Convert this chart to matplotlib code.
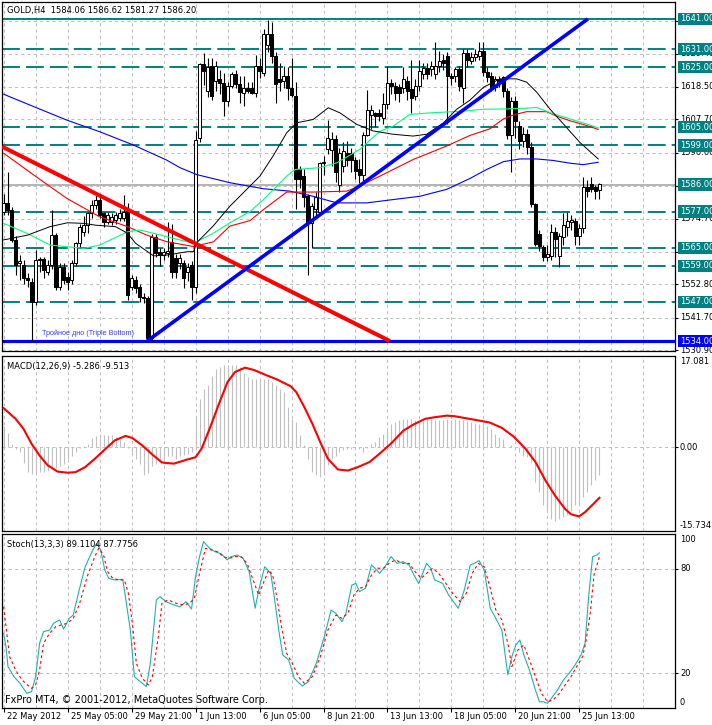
import numpy as np
import matplotlib
matplotlib.use("Agg")
import matplotlib.pyplot as plt

# GOLD H4 bars, 22 May .. 25 Jun 2012
opens = [1577.0, 1580.0, 1577.5, 1567.6, 1559.8, 1559.3, 1554.8, 1553.7, 1547.1, 1561.0,
         1561.1, 1557.0, 1559.3, 1569.2, 1552.1, 1558.7, 1555.4, 1554.3, 1559.8, 1566.5,
         1570.3, 1572.5, 1576.4, 1579.2, 1580.9, 1576.4, 1573.7, 1573.7, 1574.2, 1574.8,
         1574.8, 1577.5, 1552.1, 1554.3, 1552.1, 1548.7, 1548.2, 1535.0, 1568.7, 1563.6,
         1562.6, 1563.1, 1567.0, 1561.5, 1559.8, 1559.8, 1557.1, 1559.3, 1552.1, 1601.5,
         1625.9, 1617.0, 1625.3, 1620.4, 1621.0, 1619.8, 1613.7, 1618.7, 1622.6, 1619.3,
         1616.5, 1618.1, 1618.0, 1616.5, 1625.3, 1623.2, 1632.5, 1635.9, 1628.7, 1621.0,
         1620.4, 1622.0, 1618.1, 1615.4, 1591.0, 1588.8, 1582.1, 1573.3, 1578.0, 1577.0,
         1593.0, 1597.7, 1597.6, 1601.0, 1586.0, 1592.1, 1596.5, 1596.5, 1594.3, 1591.0,
         1589.3, 1602.6, 1609.2, 1609.8, 1609.8, 1608.0, 1612.6, 1619.8, 1618.7, 1618.5,
         1618.1, 1620.4, 1617.6, 1615.4, 1618.7, 1622.6, 1624.8, 1624.3, 1622.6, 1625.3,
         1627.5, 1628.7, 1622.0, 1622.0, 1624.3, 1618.1, 1629.8, 1627.2, 1628.3, 1628.8,
         1630.5, 1623.3, 1622.2, 1618.3, 1621.1, 1621.6, 1617.2, 1602.3, 1613.9, 1605.6,
         1600.6, 1602.8, 1598.4, 1579.6, 1569.6, 1565.2, 1561.8, 1562.4, 1570.1, 1562.4,
         1568.5, 1571.8, 1573.5, 1574.0, 1569.0, 1571.5, 1585.1, 1586.2, 1585.1, 1584.06]
highs = [1583.0, 1590.0, 1578.5, 1569.0, 1562.6, 1561.0, 1556.5, 1555.0, 1564.2, 1562.0,
         1562.0, 1561.0, 1577.5, 1570.0, 1560.0, 1560.0, 1557.0, 1561.0, 1567.0, 1573.0,
         1575.5, 1577.0, 1581.0, 1583.6, 1582.0, 1577.0, 1577.0, 1576.5, 1577.0, 1578.0,
         1582.5, 1580.0, 1556.0, 1555.5, 1553.0, 1550.0, 1549.0, 1569.5, 1569.5, 1565.0,
         1565.0, 1573.5, 1573.0, 1563.0, 1563.0, 1561.0, 1560.0, 1560.5, 1603.8, 1626.5,
         1629.8, 1628.0, 1628.0, 1627.0, 1624.0, 1623.0, 1620.0, 1623.5, 1624.0, 1622.0,
         1622.0, 1620.0, 1620.0, 1629.0, 1628.0, 1637.5, 1640.8, 1640.0, 1630.0, 1626.5,
         1625.5, 1625.0, 1628.0, 1620.0, 1592.0, 1591.0, 1583.0, 1580.0, 1583.5, 1593.5,
         1595.5, 1607.3, 1603.5, 1602.5, 1598.0, 1600.0, 1600.5, 1598.0, 1595.0, 1594.5,
         1603.5, 1617.5, 1612.5, 1610.0, 1611.0, 1616.5, 1625.3, 1621.0, 1620.0, 1619.5,
         1625.0, 1622.0, 1627.4, 1621.0, 1627.5, 1626.5, 1626.5, 1627.0, 1633.2, 1630.5,
         1629.5, 1630.1, 1623.0, 1625.0, 1625.5, 1631.0, 1631.0, 1630.0, 1631.0, 1633.3,
         1633.5, 1625.0, 1623.5, 1622.0, 1622.0, 1622.0, 1618.0, 1615.0, 1615.5, 1607.0,
         1605.0, 1604.5, 1600.0, 1580.0, 1571.0, 1566.0, 1566.0, 1573.0, 1572.0, 1570.0,
         1576.5, 1577.0, 1576.0, 1575.0, 1573.0, 1588.5, 1587.5, 1588.5, 1586.0, 1586.62]
lows = [1576.0, 1576.0, 1567.0, 1556.0, 1554.3, 1553.0, 1552.0, 1534.0, 1546.0, 1557.0,
        1555.0, 1556.0, 1558.0, 1551.0, 1551.0, 1553.0, 1551.0, 1553.0, 1559.0, 1565.0,
        1569.0, 1570.0, 1575.0, 1578.0, 1575.0, 1572.0, 1573.0, 1572.5, 1573.0, 1574.0,
        1574.0, 1547.5, 1551.0, 1550.0, 1547.0, 1546.5, 1534.0, 1534.0, 1562.0, 1559.0,
        1561.0, 1562.0, 1555.0, 1555.0, 1558.0, 1551.5, 1554.0, 1547.5, 1550.0, 1600.0,
        1619.0, 1615.0, 1614.0, 1617.0, 1616.0, 1608.7, 1612.0, 1618.0, 1618.0, 1613.0,
        1612.0, 1616.5, 1616.0, 1615.0, 1621.5, 1622.0, 1630.0, 1626.5, 1613.0, 1617.0,
        1618.0, 1614.0, 1615.0, 1578.0, 1585.0, 1578.4, 1556.0, 1565.0, 1575.0, 1576.0,
        1589.0, 1596.0, 1592.0, 1587.0, 1583.5, 1590.0, 1592.0, 1590.0, 1588.0, 1586.5,
        1587.0, 1602.0, 1604.5, 1605.0, 1607.0, 1606.0, 1611.0, 1616.0, 1614.0, 1613.5,
        1616.5, 1614.0, 1609.6, 1614.0, 1617.0, 1621.0, 1621.0, 1622.0, 1621.0, 1623.5,
        1624.0, 1606.0, 1619.0, 1620.0, 1617.0, 1613.0, 1625.0, 1626.0, 1627.0, 1627.5,
        1622.0, 1620.0, 1617.0, 1617.0, 1618.5, 1615.0, 1601.0, 1590.1, 1601.5, 1597.7,
        1598.5, 1596.0, 1578.5, 1565.5, 1564.0, 1560.5, 1560.5, 1561.0, 1562.0, 1558.5,
        1566.0, 1569.0, 1571.0, 1566.0, 1566.0, 1570.0, 1582.0, 1583.5, 1581.3, 1581.27]
closes = [1579.7, 1577.5, 1567.6, 1559.3, 1560.5, 1554.8, 1554.3, 1547.1, 1560.9, 1561.3,
          1557.6, 1559.3, 1569.2, 1552.1, 1558.7, 1554.3, 1553.7, 1559.8, 1566.5, 1572.0,
          1572.5, 1576.4, 1579.2, 1580.9, 1575.9, 1573.7, 1575.9, 1575.3, 1575.9, 1576.4,
          1577.0, 1549.3, 1554.8, 1551.5, 1548.7, 1548.2, 1535.0, 1568.7, 1563.1, 1562.6,
          1563.6, 1564.0, 1557.0, 1557.0, 1561.5, 1554.8, 1558.7, 1552.1, 1600.8, 1625.9,
          1623.7, 1625.0, 1615.4, 1625.3, 1619.8, 1613.7, 1618.7, 1622.6, 1619.3, 1616.7,
          1618.1, 1617.0, 1616.5, 1625.3, 1623.7, 1635.9, 1635.9, 1628.7, 1619.3, 1620.0,
          1622.0, 1618.1, 1615.9, 1587.7, 1587.7, 1582.0, 1573.3, 1578.8, 1582.0, 1593.2,
          1593.5, 1601.5, 1601.0, 1590.0, 1596.5, 1597.1, 1594.3, 1594.3, 1590.4, 1589.3,
          1602.6, 1610.9, 1610.9, 1608.7, 1608.7, 1612.6, 1619.8, 1618.7, 1616.5, 1616.5,
          1620.9, 1617.0, 1614.8, 1618.7, 1623.7, 1624.8, 1622.6, 1625.3, 1625.4, 1627.0,
          1626.4, 1622.0, 1621.5, 1624.3, 1618.7, 1629.8, 1627.5, 1628.3, 1629.4, 1630.5,
          1623.3, 1621.6, 1618.3, 1621.1, 1620.5, 1617.2, 1602.3, 1613.9, 1607.2, 1600.6,
          1602.8, 1598.4, 1579.6, 1566.3, 1565.7, 1561.8, 1562.9, 1570.1, 1567.9, 1569.0,
          1572.4, 1574.0, 1574.3, 1569.0, 1571.5, 1585.1, 1584.0, 1584.5, 1584.0, 1586.20]

# moving averages (bar position, price)
ma_black_x = [0, 6, 11.6, 16, 20, 23, 28, 31, 33, 36, 37.5, 41, 46, 47.5, 48.3, 52.4, 56.6, 60.8,
              64.1, 67.4, 70.8, 73.3, 77.4, 81.2, 84.1, 88.3, 92.4, 97.4, 102.4, 105.8, 110,
              113.3, 116.6, 120, 124.1, 128.3, 130.8, 133.3, 136.6, 140, 144.1, 148.7]
ma_black_y = [1567.6, 1569.2, 1572.0, 1573.3, 1573.1, 1572.5, 1572.0, 1569.8, 1566.5, 1563.7,
              1562.3, 1562.6, 1563.7, 1563.7, 1566.7, 1572.2, 1578.8, 1584.4, 1588.8, 1595.5,
              1603.2, 1606.5, 1607.6, 1611.5, 1609.8, 1606.0, 1603.8, 1602.7, 1602.1, 1602.7,
              1606.5, 1611.0, 1614.0, 1618.3, 1621.1, 1621.1, 1620.0, 1616.7, 1611.1, 1606.1,
              1600.0, 1594.5]
ma_green_x = [0, 5.8, 11.6, 20, 24, 31, 34, 37.5, 42.5, 47.5, 52, 56.6, 61.6, 65, 70.8, 72.9,
              79.1, 83.3, 89.1, 94.1, 97.4, 101.6, 106.6, 115, 120, 125, 130, 133.3, 137.4,
              141.6, 145.8, 148.7]
ma_green_y = [1573.1, 1569.8, 1565.9, 1564.8, 1565.9, 1570.3, 1570.9, 1569.8, 1568.1, 1566.5,
              1569.5, 1573.3, 1577.0, 1581.0, 1588.8, 1591.0, 1591.6, 1593.2, 1597.7, 1603.7,
              1605.4, 1609.3, 1609.8, 1610.4, 1611.0, 1611.1, 1611.3, 1611.6, 1609.5, 1607.8,
              1606.1, 1604.8]
ma_red_x = [0, 7.5, 15.8, 24, 31, 35.8, 40.8, 47.5, 52.5, 56.6, 61.6, 65, 70.8, 77.4, 85.8,
            89.1, 94.1, 102.4, 110.8, 116.6, 121.6, 125, 127.4, 130.8, 135.8, 138.3, 141.6,
            145.8, 148.7]
ma_red_y = [1596.4, 1589.2, 1581.4, 1575.3, 1572.0, 1569.2, 1567.0, 1565.4, 1567.0, 1572.2,
            1574.0, 1577.7, 1583.5, 1583.5, 1583.8, 1585.5, 1588.8, 1594.3, 1598.8, 1602.3,
            1604.5, 1607.8, 1609.1, 1610.2, 1610.2, 1608.7, 1607.2, 1605.6, 1604.3]
ma_blue_x = [0, 7.5, 15.8, 24.1, 32.5, 40.8, 44.1, 48.3, 56.6, 65, 71.6, 77.4, 83.3, 90.8, 97.4,
             104.1, 110.8, 116.6, 120.8, 125, 129.1, 133.3, 137.4, 141.6, 144.9, 148.7]
ma_blue_y = [1616.0, 1611.9, 1607.4, 1603.5, 1599.1, 1594.1, 1591.6, 1589.3, 1586.6, 1584.6,
             1583.8, 1582.1, 1579.9, 1579.9, 1581.0, 1582.1, 1584.4, 1588.0, 1591.0, 1593.6,
             1594.5, 1594.5, 1594.0, 1593.1, 1592.6, 1593.4]

# trend lines (bar, price anchors)
trend_red_x = [-0.4, 96.6]
trend_red_y = [1598.6, 1534.0]
trend_blue_x = [35.9, 146.1]
trend_blue_y = [1534.0, 1641.0]

levels_dashed = [1631, 1625, 1605, 1599, 1577, 1565, 1559, 1547]
level_top = 1641
level_bid = 1586
level_bottom = 1534
price_grid = [1530.9, 1541.7, 1552.8, 1563.7, 1574.7, 1585.6, 1596.6, 1607.7, 1618.5, 1629.4, 1640.3]

macd_hist = [4.0, 2.6, 0.6, -0.3, -1.0, -3.0, -4.6, -5.0, -4.8, -4.7,
             -4.7, -4.5, -4.2, -4.0, -3.6, -3.2, -2.2, -1.6, -0.9, -0.2,
             0.2, 0.6, 1.7, 2.0, 2.1, 2.3, 2.3, 2.3, 1.9, 1.6,
             0.9, -0.1, -1.3, -2.2, -3.1, -5.3, -4.8, -3.5, -3.1, -2.6,
             -2.2, -1.6, -1.7, -2.2, -1.6, -1.4, -1.3, -1.0, 5.9, 9.0,
             10.9, 11.6, 13.4, 14.7, 15.0, 15.3, 15.3, 15.4, 15.3, 15.0,
             13.8, 13.1, 12.8, 12.8, 12.8, 12.8, 12.8, 12.2, 11.6, 10.9,
             10.3, 7.5, 5.3, 4.7, 2.2, 0.3, -2.2, -4.7, -5.3, -5.6,
             -5.0, -3.4, -2.2, -1.6, -0.9, -0.6, -0.3, -0.3, -0.2, -0.3,
             -0.9, -0.2, 0.6, 0.9, 1.9, 2.5, 3.4, 4.4, 4.7, 5.0,
             5.3, 5.3, 5.2, 5.0, 4.8, 5.0, 5.3, 5.2, 5.0, 5.0,
             5.1, 5.3, 5.0, 5.3, 5.0, 5.0, 4.8, 4.7, 4.6, 4.4,
             4.2, 4.0, 3.4, 2.5, 1.9, 1.6, 0.0, 0.3, -0.3, -0.9,
             -1.6, -1.9, -2.8, -6.6, -8.4, -10.9, -12.2, -13.4, -13.8, -13.4,
             -13.1, -12.8, -11.9, -10.9, -10.9, -9.4, -8.4, -7.2, -6.2, -5.286]
macd_sig_x = [0, 3, 5, 7, 9, 11, 13.5, 16, 18, 20.4, 22.8, 24.8, 27.8, 30.5, 32.2, 34.7, 37.2,
              39.6, 42.6, 45.6, 48, 49.5, 51.5, 54, 56, 57.9, 60.4, 62.8, 65.3, 68.3, 71.8,
              73.2, 75.2, 77.2, 79.2, 81.1, 83.6, 86.1, 88.6, 91.5, 94, 97, 100, 102.4, 105.4,
              107.8, 110.8, 112.7, 115.7, 118.7, 121.6, 124.6, 127.5, 130.5, 133, 135.5,
              137.9, 140.4, 141.9, 143.9, 145.4, 147.3, 149]
macd_sig_y = [7.3, 5.3, 3.4, 0.6, -1.6, -3.4, -4.6, -4.8, -4.7, -3.75, -2.2, -0.8, 1.25, 2.1,
              1.7, 0.3, -1.4, -2.9, -3.1, -2.4, -1.9, -0.3, 3.4, 8.4, 12.2, 14.1, 14.9, 14.4,
              13.6, 12.7, 11.4, 10.3, 7.5, 4.4, 0.9, -2.2, -4.2, -4.4, -3.75, -2.8, -1.25,
              0.75, 3.1, 4.2, 5.3, 5.6, 5.9, 5.8, 5.4, 5.0, 4.6, 3.6, 2.0, -0.3, -2.8, -6.25,
              -9.1, -11.6, -12.6, -13.0, -12.2, -10.8, -9.513]

stoch_main_x = [0, 0.6, 1.1, 2.6, 4.1, 5.8, 7, 8, 9, 10, 11.5, 12.5, 14, 15, 16.4, 17.4, 18.9,
                20.4, 22.3, 23.3, 24.3, 25.3, 26.3, 27.8, 29.8, 30.7, 31.7, 32.7, 34.2, 35.7,
                36.7, 38.2, 39.1, 40.6, 42.6, 44.1, 45.6, 47, 48, 49, 50, 51.5, 52.9, 54.5,
                55.9, 56.9, 58.4, 59.9, 61.4, 62.9, 63.8, 65.3, 66.8, 67.8, 68.8, 69.8, 71.3,
                72.7, 74.7, 76.2, 78.2, 80.2, 81.9, 83.1, 84.6, 85.6, 87.1, 88.1, 89, 90.5,
                92, 92.9, 94, 95.4, 96.9, 98.4, 99.9, 101.4, 102.4, 103.8, 104.8, 105.8,
                106.8, 107.8, 109.8, 111.3, 113.7, 115.2, 116.7, 117.7, 118.9, 120.2, 121.7,
                123.1, 124.6, 126.1, 127.1, 128.1, 129.1, 130.1, 131.5, 133, 134, 135, 136,
                137, 138.5, 140, 141.4, 142.9, 144.4, 145.4, 146.3, 147.3, 148.3, 149]
stoch_main_y = [42.9, 35, 23.8, 18, 14.2, 8.4, 9.4, 18, 37.2, 43.9, 44.8, 48.7, 50.6, 45.4,
                51.5, 53.4, 67.8, 81.2, 90.8, 94.6, 90.8, 79.3, 74.5, 73.6, 73.9, 60.2, 44.8,
                18, 15.1, 12.3, 25.7, 62.1, 64, 61.1, 59.2, 58.2, 61.1, 56.9, 75.5, 87, 95.6,
                91.8, 89.8, 88.5, 85.1, 87, 87.9, 86, 78.4, 57.3, 67.8, 81.2, 77.4, 62.1, 44.8,
                30.5, 27.6, 17, 12.6, 15.1, 25.7, 41, 56.3, 54.4, 49.6, 54.4, 70.7, 71.6, 66.9,
                68.8, 82.2, 80.3, 77.4, 81.2, 87, 83.1, 84.1, 82.2, 77.4, 71.6, 77.4, 83.1,
                80.3, 73.6, 71.6, 64.9, 57.3, 67.8, 82.2, 83.1, 84.7, 79.3, 57.3, 51.5, 44.8,
                19, 29.5, 36.2, 39.1, 30.5, 21.8, 10.3, 3.6, 3.6, 2.7, 5.6, 10.3, 16.1, 19.9,
                24.7, 30.5, 37.2, 64, 87, 87.9, 89.11]
stoch_sig_x = [0, 0.6, 1.5, 3, 4.6, 6, 7, 8, 9, 10, 11.5, 13, 14.4, 16, 17.4, 18.9, 20.9, 22.8,
               23.8, 25, 26, 27.3, 28.8, 30.2, 31.2, 32.2, 33.2, 34.7, 36.2, 37.2, 38.7, 39.6,
               41.1, 43.1, 45.1, 46.5, 47.7, 49, 50.5, 52, 53.5, 55, 56.4, 57.9, 59.4, 60.9,
               62.4, 63.8, 65.1, 66.3, 67.3, 68.3, 69.5, 70.8, 72.2, 73.7, 75.2, 77.2, 79.2,
               81.1, 83.1, 84.6, 86.1, 87.6, 89, 90.5, 92, 93.5, 95, 96.4, 98, 99.9, 101.4,
               102.9, 104.4, 105.8, 107.3, 108.8, 110.3, 112.3, 114.2, 115.7, 117.2, 118.7,
               120.2, 121.7, 123.1, 124.6, 126.1, 127.1, 128.6, 130.1, 131.5, 133, 134.5, 136,
               137.4, 139, 140.4, 141.9, 143.3, 144.8, 145.7, 146.7, 147.7, 148.8, 149]
stoch_sig_y = [58.2, 46.7, 29.5, 21.8, 16.1, 13.2, 11.3, 13.2, 21.8, 37.2, 42.9, 46.7, 47.7,
               48.7, 51.5, 59.2, 75.5, 87, 91.8, 87.9, 78.4, 74.5, 73.6, 73.6, 65.9, 48.7, 25.7,
               17, 13.2, 18, 41, 60.2, 62.1, 60.2, 59.2, 60.2, 63, 77.4, 91.8, 90.8, 89.8, 87,
               86, 87, 87, 83.1, 73.6, 64.9, 72.6, 79.3, 76.4, 64, 46.7, 31.4, 25.7, 18, 14.2,
               18, 29.5, 44.8, 53.4, 51.5, 54.4, 64.9, 68.8, 69.7, 76.4, 80.3, 80.3, 83.1, 85.1,
               83.1, 83.1, 78.4, 74.5, 77.4, 80.3, 77.4, 72.6, 65.9, 61.1, 65.9, 77.4, 83.1,
               81.2, 68.8, 56.3, 50.6, 37.2, 23.8, 33.3, 36.2, 27.6, 18, 8.4, 3.6, 4.6, 8.4,
               13.2, 18, 23.8, 29.5, 39.1, 54.4, 77.4, 85.1, 87.78]

date_bars = [0, 16, 32, 48, 64, 80, 96, 112, 128, 144]
date_labels = ["22 May 2012", "25 May 05:00", "29 May 21:00", "1 Jun 13:00", "6 Jun 05:00",
               "8 Jun 21:00", "13 Jun 13:00", "18 Jun 05:00", "20 Jun 21:00", "25 Jun 13:00"]

header = "GOLD,H4  1584.06 1586.62 1581.27 1586.20"
macd_title = "MACD(12,26,9) -5.286 -9.513"
stoch_title = "Stoch(13,3,3) 89.1104 87.7756"

TEAL = "#008080"
GRID = "#c0c0c0"
FS = 6

W, H = 712, 725
fig = plt.figure(figsize=(W / 100, H / 100), dpi=100)


def panel(top, bottom):
    a = fig.add_axes([2 / W, 1 - bottom / H, 673 / W, (bottom - top) / H])
    a.set_xlim(-0.4, 167.9)
    for s in a.spines.values():
        s.set_linewidth(0.9)
    a.tick_params(left=False, bottom=False, labelleft=False, labelbottom=False,
                  right=True, labelright=False, direction="out", length=2.5, width=0.8)
    a.set_xticks([])
    for b in range(0, 168, 8):
        a.axvline(b, color=GRID, lw=0.75, ls=(0, (3, 3)), zorder=0.5)
    return a


def rlabel(a, y, text, fc=None, va="center", dy=0, yc="data", z=6):
    kw = {}
    if fc:
        kw["bbox"] = dict(boxstyle="square,pad=0.2", fc=fc, ec="none")
    a.annotate(text, xy=(1, y), xycoords=("axes fraction", yc), xytext=(5, dy),
               textcoords="offset pixels", ha="left", va=va, fontsize=FS,
               color="white" if fc else "black", annotation_clip=False, zorder=z, **kw)


# ---------------- main price panel ----------------
ax = panel(1.5, 351)
ax.set_ylim(1530.7, 1646.8)
ax.set_yticks(price_grid)
for p in price_grid:
    ax.axhline(p, color=GRID, lw=0.75, ls=(0, (3, 3)), zorder=0.5)

for lv in levels_dashed:
    ax.axhline(lv, color=TEAL, lw=1.4, ls=(0, (9.2, 3.1)), zorder=1)
ax.axhline(level_top, color=TEAL, lw=1.4, zorder=1)
ax.axhline(level_bid, color="#b4b4b4", lw=1.4, zorder=1)
ax.axhline(level_bottom, color="#0000ff", lw=2.3, zorder=1)

o = np.array(opens)
hi = np.array(highs)
lo = np.array(lows)
c = np.array(closes)
x = np.arange(len(c))
ax.vlines(x, lo, hi, color="black", lw=0.8, zorder=3)
up = c >= o
bottom = np.minimum(o, c)
height = np.maximum(np.abs(c - o), 0.25)
ax.bar(x[up], height[up], bottom=bottom[up], width=0.55, facecolor="white",
       edgecolor="black", lw=0.75, zorder=3.5)
ax.bar(x[~up], height[~up], bottom=bottom[~up], width=0.55, facecolor="black",
       edgecolor="black", lw=0.75, zorder=3.5)

ax.plot(ma_blue_x, ma_blue_y, color="#0000ff", lw=0.8, zorder=4)
ax.plot(ma_red_x, ma_red_y, color="#ff0000", lw=0.8, zorder=4)
ax.plot(ma_green_x, ma_green_y, color="#00ff7f", lw=0.8, zorder=4)
ax.plot(ma_black_x, ma_black_y, color="black", lw=0.7, zorder=4)

ax.plot(trend_red_x, trend_red_y, color="#ff0000", lw=2.9, zorder=5, solid_capstyle="butt")
ax.plot(trend_blue_x, trend_blue_y, color="#0000ff", lw=2.6, zorder=5, solid_capstyle="butt")

ax.text(9.6, 1536.6, "Тройное дно (Triple Bottom)", fontsize=5.2, color="#3c3cff",
        family="Liberation Sans", ha="left", va="center", zorder=6)
ax.annotate(header, xy=(0, 1), xycoords="axes fraction", xytext=(5, -4),
            textcoords="offset pixels", ha="left", va="top", fontsize=FS)

all_levels = levels_dashed + [level_top, level_bid, level_bottom]
for p in price_grid:
    if min(abs(p - lv) for lv in all_levels) > 1.0:
        rlabel(ax, p, "%.2f" % p, z=6)
for lv in levels_dashed + [level_top, level_bid]:
    rlabel(ax, lv, "%.2f" % lv, fc=TEAL, z=7)
rlabel(ax, level_bottom, "%.2f" % level_bottom, fc="#0000ff", z=7)

# ---------------- MACD panel ----------------
axm = panel(356, 531)
axm.set_ylim(-15.734, 17.081)
axm.set_yticks([0])
axm.axhline(0, color=GRID, lw=0.75, ls=(0, (3, 3)), zorder=0.5)
axm.vlines(x, 0, macd_hist, color=GRID, lw=0.8, zorder=2)
axm.plot(macd_sig_x, macd_sig_y, color="#ff0000", lw=1.5, zorder=3)
axm.annotate(macd_title, xy=(0, 1), xycoords="axes fraction", xytext=(5, -6),
             textcoords="offset pixels", ha="left", va="top", fontsize=FS)
rlabel(axm, 1, "17.081", va="top", dy=-1, yc="axes fraction")
rlabel(axm, 0, "0.00")
rlabel(axm, 0, "-15.734", va="bottom", dy=1, yc="axes fraction")

# ---------------- Stochastic panel ----------------
axs = panel(534, 708)
axs.set_ylim(0, 100)
axs.set_yticks([20, 80])
for v in (20, 80):
    axs.axhline(v, color=GRID, lw=0.75, ls=(0, (3, 3)), zorder=0.5)
axs.plot(stoch_main_x, stoch_main_y, color="#20b2aa", lw=0.8, zorder=3)
axs.plot(stoch_sig_x, stoch_sig_y, color="#ff0000", lw=0.8, ls=(0, (2.5, 2.5)), zorder=3)
axs.annotate(stoch_title, xy=(0, 1), xycoords="axes fraction", xytext=(5, -6),
             textcoords="offset pixels", ha="left", va="top", fontsize=FS)
axs.annotate("FxPro MT4, © 2001-2012, MetaQuotes Software Corp.", xy=(0, 0),
             xycoords="axes fraction", xytext=(3, 3), textcoords="offset pixels",
             ha="left", va="bottom", fontsize=7)
rlabel(axs, 1, "100", va="top", dy=-1, yc="axes fraction")
rlabel(axs, 80, "80")
rlabel(axs, 20, "20")
rlabel(axs, 0, "0", va="bottom", dy=1, yc="axes fraction")

axs.set_xticks(date_bars)
axs.tick_params(axis="x", bottom=True, direction="out", length=3, width=0.8)
for b, lbl in zip(date_bars, date_labels):
    axs.annotate(lbl, xy=(b, 0), xycoords=("data", "axes fraction"), xytext=(3, -4),
                 textcoords="offset pixels", ha="left", va="top", fontsize=FS,
                 annotation_clip=False)

fig.savefig("out.png", dpi=100)
